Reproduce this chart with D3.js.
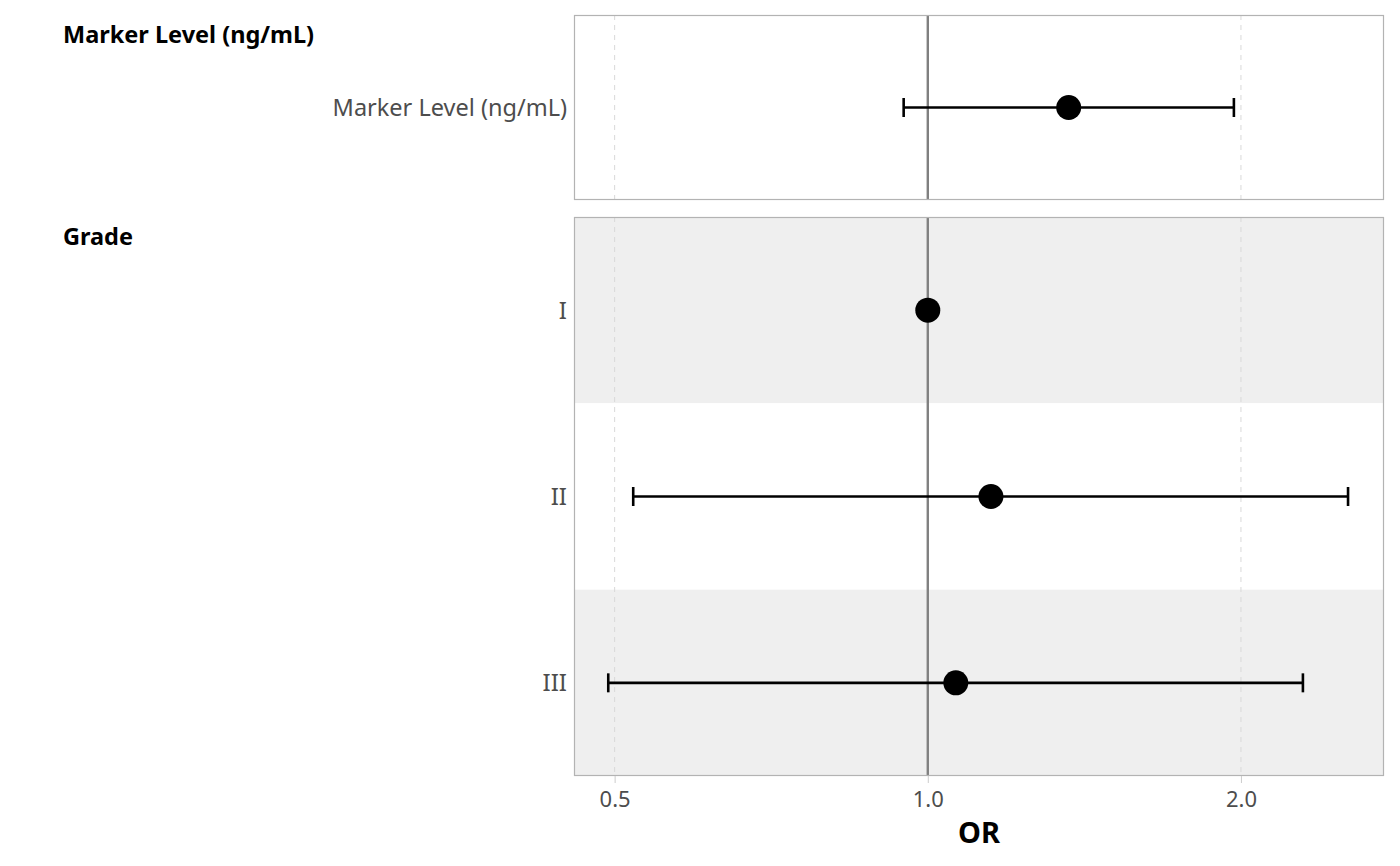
<!DOCTYPE html>
<html>
<head>
<meta charset="utf-8">
<script src="https://cdn.jsdelivr.net/npm/d3@7"></script>
<style>
  body { margin: 0; background: #fff; }
  text { font-family: "Noto Sans", sans-serif; }
</style>
</head>
<body>
<div id="chart"></div>
<script>
// data
var groups = ["Marker Level (ng/mL)", "Grade"];
var labels = ["Marker Level (ng/mL)", "I", "II", "III"];
var rowGroup = [0, 1, 1, 1];
var estimates = [1.366, 1.0, 1.15, 1.064];
var lower = [0.948, null, 0.521, 0.493];
var upper = [1.969, null, 2.535, 2.294];
var xTicks = [0.5, 1.0, 2.0];
var xDomain = [0.457, 2.745];

var svgWidth = 1400, svgHeight = 866;
var svg = d3.select("#chart").append("svg")
  .attr("width", svgWidth)
  .attr("height", svgHeight);

var left = 574, right = 1384;

// panel layout: one panel per group, stacked
var panels = [
  { top: 15, bottom: 200 },
  { top: 217, bottom: 776 }
];

var x = d3.scaleLog().domain(xDomain).range([left, right]);

groups.forEach(function (g, gi) {
  var p = panels[gi];
  var rows = labels.map(function (l, i) { return i; }).filter(function (i) { return rowGroup[i] === gi; });
  var y = d3.scaleBand().domain(rows).range([p.top, p.bottom]);

  var panel = svg.append("g");

  // stripes
  panel.selectAll("rect.stripe")
    .data(rows)
    .enter()
    .append("rect")
    .attr("x", left)
    .attr("y", function (d) { return y(d); })
    .attr("width", right - left)
    .attr("height", y.bandwidth())
    .attr("fill", function (d, k) { return (gi === 1 && k % 2 === 0) ? "#efefef" : "#ffffff"; });

  // grid lines
  panel.selectAll("line.grid")
    .data(xTicks.filter(function (t) { return t !== 1; }))
    .enter()
    .append("line")
    .attr("x1", function (d) { return x(d); })
    .attr("x2", function (d) { return x(d); })
    .attr("y1", p.top)
    .attr("y2", p.bottom)
    .attr("stroke", "#d9d9d9")
    .attr("stroke-width", 1)
    .attr("stroke-dasharray", "5,5");

  // reference line
  panel.append("line")
    .attr("x1", x(1)).attr("x2", x(1))
    .attr("y1", p.top).attr("y2", p.bottom)
    .attr("stroke", "#808080")
    .attr("stroke-width", 2.4);

  // error bars
  var ci = rows.filter(function (i) { return lower[i] !== null; });
  panel.selectAll("line.ci")
    .data(ci)
    .enter()
    .append("line")
    .attr("x1", function (d) { return x(lower[d]); })
    .attr("x2", function (d) { return x(upper[d]); })
    .attr("y1", function (d) { return y(d) + y.bandwidth() / 2; })
    .attr("y2", function (d) { return y(d) + y.bandwidth() / 2; })
    .attr("stroke", "#000")
    .attr("stroke-width", 2.6);

  ["lo", "hi"].forEach(function (side) {
    panel.selectAll("line.cap" + side)
      .data(ci)
      .enter()
      .append("line")
      .attr("x1", function (d) { return x(side === "lo" ? lower[d] : upper[d]); })
      .attr("x2", function (d) { return x(side === "lo" ? lower[d] : upper[d]); })
      .attr("y1", function (d) { return y(d) + y.bandwidth() / 2 - 9.5; })
      .attr("y2", function (d) { return y(d) + y.bandwidth() / 2 + 9.5; })
      .attr("stroke", "#000")
      .attr("stroke-width", 2.6);
  });

  // points
  panel.selectAll("circle")
    .data(rows)
    .enter()
    .append("circle")
    .attr("cx", function (d) { return x(estimates[d]); })
    .attr("cy", function (d) { return y(d) + y.bandwidth() / 2; })
    .attr("r", 12.5)
    .attr("fill", "#000");

  // row labels (grade numerals come out in a serif face)
  panel.selectAll("text.row")
    .data(rows)
    .enter()
    .append("text")
    .attr("x", left - 7)
    .attr("y", function (d) { return y(d) + y.bandwidth() / 2; })
    .attr("dy", "0.35em")
    .attr("text-anchor", "end")
    .attr("font-size", gi === 0 ? "23.5px" : "24px")
    .attr("font-family", gi === 0 ? "Noto Sans, sans-serif" : "Liberation Serif, serif")
    .attr("fill", "#4d4d4d")
    .text(function (d) { return labels[d]; });

  // group header
  panel.append("text")
    .attr("x", 63)
    .attr("y", p.top + 28)
    .attr("font-size", "23.5px")
    .attr("font-weight", "bold")
    .attr("fill", "#000")
    .text(g);

  // border
  panel.append("rect")
    .attr("x", left + 0.5)
    .attr("y", p.top + 0.5)
    .attr("width", right - left - 1)
    .attr("height", p.bottom - p.top - 1)
    .attr("fill", "none")
    .attr("stroke", "#b3b3b3")
    .attr("stroke-width", 1.2);
});

// x axis
var bottomAxis = d3.axisBottom(x)
  .tickValues(xTicks)
  .tickFormat(d3.format(".1f"))
  .tickSize(7)
  .tickPadding(8);

var axisG = svg.append("g")
  .attr("transform", "translate(0," + panels[1].bottom + ")")
  .call(bottomAxis);
axisG.select(".domain").remove();
axisG.selectAll(".tick line")
  .attr("stroke", "#cccccc")
  .attr("stroke-width", 1);
axisG.selectAll("text")
  .attr("font-family", "Noto Sans, sans-serif")
  .attr("font-size", "22px")
  .attr("fill", "#4d4d4d");

svg.append("text")
  .attr("x", (left + right) / 2)
  .attr("y", 843)
  .attr("text-anchor", "middle")
  .attr("font-size", "29px")
  .attr("font-weight", "bold")
  .attr("fill", "#000")
  .text("OR");
</script>
</body>
</html>
